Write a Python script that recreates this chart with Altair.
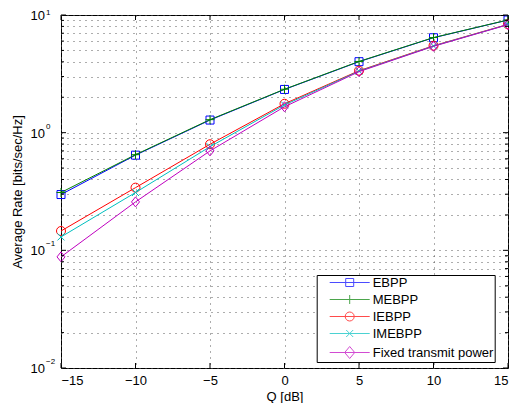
import altair as alt
import pandas as pd

# ---- data ----
q_db = [-15, -10, -5, 0, 5, 10, 15]
series_names = ["EBPP", "MEBPP", "IEBPP", "IMEBPP", "Fixed transmit power"]
ebpp = [0.298, 0.644, 1.28, 2.33, 4.01, 6.41, 9.06]
mebpp = [0.31, 0.65, 1.29, 2.34, 4.03, 6.43, 9.08]
iebpp = [0.146, 0.341, 0.797, 1.76, 3.36, 5.48, 8.33]
imebpp = [0.13, 0.31, 0.76, 1.72, 3.33, 5.45, 8.30]
fixed_power = [0.088, 0.258, 0.70, 1.66, 3.30, 5.42, 8.28]

x_ticks = [-15, -10, -5, 0, 5, 10, 15]
y_major = [0.01, 0.1, 1, 10]
y_minor = [0.02, 0.03, 0.04, 0.05, 0.06, 0.07, 0.08, 0.09,
           0.2, 0.3, 0.4, 0.5, 0.6, 0.7, 0.8, 0.9,
           2, 3, 4, 5, 6, 7, 8, 9]
y_exponents = ["\u22122", "\u22121", "0", "1"]

# ---- styles ----
colors = ["#0000FF", "#008000", "#FF0000", "#00BFBF", "#BF00BF"]
point_shapes = ["square", "M0,-1L0,1M-1,0L1,0", "circle",
                "M-1,-1L1,1M-1,1L1,-1", "M0,-1.25L1,0L0,1.25L-1,0Z"]
point_sizes = [64, 81, 81, 49, 64]
legend_paths = [
    "M-4,0L4,0M-0.8,-0.8L0.8,-0.8L0.8,0.8L-0.8,0.8Z",
    "M-4,0L4,0M0,-0.9L0,0.9",
    "M-4,0L4,0M0.9,0A0.9,0.9,0,1,0,-0.9,0A0.9,0.9,0,1,0,0.9,0",
    "M-4,0L4,0M-0.7,-0.7L0.7,0.7M-0.7,0.7L0.7,-0.7",
    "M-4,0L4,0M0,-1.2L1,0L0,1.2L-1,0Z",
]

W, H = 447, 353
FONT = "Liberation Sans"

rows = []
for name, vals in zip(series_names, [ebpp, mebpp, iebpp, imebpp, fixed_power]):
    for q, v in zip(q_db, vals):
        rows.append({"series": name, "Q": q, "Rate": v})
df = pd.DataFrame(rows)

xscale = alt.Scale(domain=[-15, 15], nice=False, zero=False)
yscale = alt.Scale(type="log", domain=[0.01, 10], nice=False)

grid_kw = dict(grid=True, gridDash=[1, 5], gridColor="#5a5a5a", gridWidth=1,
               ticks=False, tickSize=0, domain=False)

x_axis = alt.Axis(values=x_ticks, labelPadding=6, labelFontSize=13,
                  labelColor="black", title="Q [dB]", titleFontSize=13,
                  titleFontWeight="normal", titleColor="black",
                  titlePadding=3, **grid_kw)
y_axis = alt.Axis(values=y_major + y_minor, labels=False,
                  title="Average Rate [bits/sec/Hz]", titleFontSize=13,
                  titleFontWeight="normal", titleColor="black",
                  titlePadding=37, **grid_kw)

xenc = alt.X("Q:Q", scale=xscale, axis=x_axis)
yenc = alt.Y("Rate:Q", scale=yscale, axis=y_axis)

base = alt.Chart(df)
layers = []
for name, col, shp, sz in zip(series_names, colors, point_shapes, point_sizes):
    sub = base.transform_filter(alt.datum.series == name)
    layers.append(sub.mark_line(color=col, strokeWidth=1).encode(x=xenc, y=yenc))
    layers.append(sub.mark_point(color=col, filled=False, shape=shp, size=sz,
                                 strokeWidth=1, opacity=1).encode(x=xenc, y=yenc))

# legend (line + marker samples) from an empty layer
leg = alt.Legend(title=None, orient="none", legendX=255.7, legendY=260,
                 strokeColor="black", fillColor="white", padding=1,
                 symbolSize=100, symbolStrokeWidth=1, symbolOffset=25.5,
                 labelFontSize=13, labelFont=FONT, labelColor="black",
                 labelOffset=16.5, rowPadding=3, cornerRadius=0)
legend_layer = base.transform_filter("false").mark_point(
    filled=False, size=100, strokeWidth=1).encode(
    x=xenc, y=yenc,
    color=alt.Color("series:N", scale=alt.Scale(domain=series_names, range=colors), legend=leg),
    shape=alt.Shape("series:N", scale=alt.Scale(domain=series_names, range=legend_paths), legend=leg),
)
layers.append(legend_layer)

# inward ticks
ymaj = alt.Chart(pd.DataFrame({"v": y_major}))
ymin = alt.Chart(pd.DataFrame({"v": y_minor}))
xt = alt.Chart(pd.DataFrame({"v": x_ticks}))
yv = alt.Y("v:Q", scale=yscale, axis=y_axis)
xv = alt.X("v:Q", scale=xscale, axis=x_axis)
for src, ln in [(ymaj, 5), (ymin, 3)]:
    layers.append(src.mark_rule(color="black", strokeWidth=1).encode(y=yv, x=alt.value(0), x2=alt.value(ln)))
    layers.append(src.mark_rule(color="black", strokeWidth=1).encode(y=yv, x=alt.value(W), x2=alt.value(W - ln)))
layers.append(xt.mark_rule(color="black", strokeWidth=1).encode(x=xv, y=alt.value(H), y2=alt.value(H - 5)))
layers.append(xt.mark_rule(color="black", strokeWidth=1).encode(x=xv, y=alt.value(0), y2=alt.value(5)))

# y tick labels 10^k
ylab = alt.Chart(pd.DataFrame({"v": y_major, "base": ["10"] * len(y_major), "exp": y_exponents}))
layers.append(ylab.mark_text(align="right", baseline="middle", fontSize=13, font=FONT,
                             color="black", dy=1).encode(y=yv, x=alt.value(-16), text="base:N"))
layers.append(ylab.transform_filter(alt.datum.v < 5).mark_text(
    align="left", baseline="middle", fontSize=8, font=FONT, color="black", dy=-6
).encode(y=yv, x=alt.value(-15), text="exp:N"))
layers.append(ylab.transform_filter(alt.datum.v > 5).mark_text(
    align="left", baseline="middle", fontSize=8, font=FONT, color="black", dy=-2.5
).encode(y=yv, x=alt.value(-15), text="exp:N"))

chart = alt.layer(*layers).properties(
    width=W, height=H,
    autosize=alt.AutoSizeParams(type="none"),
    padding={"left": 53, "top": 7, "right": 1, "bottom": 35},
).configure(font=FONT).configure_view(stroke="black", strokeWidth=1)

chart.save("out.html", embed_options={"renderer": "svg", "actions": False})
